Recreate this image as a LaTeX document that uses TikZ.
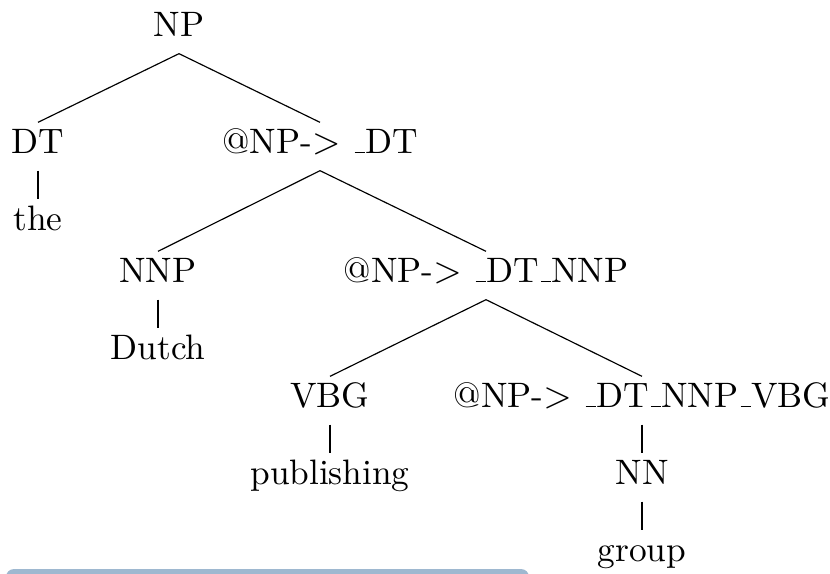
\documentclass[tikz,border=0pt]{standalone}
\usepackage{tikz}
% low rule underscore, as in the classic OT1 \_
\newcommand\ulbar{\leavevmode\kern.06em\vbox{\hrule width.3em}}
\newcommand\arr{@NP-$>$ \ulbar DT}
\definecolor{barblue}{RGB}{158,184,208}
\tikzset{
  lbl/.style={anchor=base, inner xsep=0pt, inner ysep=0.6pt,
              text height=8.4pt, text depth=4.5pt,
              font=\fontsize{10.6pt}{13pt}\selectfont},
  edge/.style={draw=black, line width=0.35pt}
}
\begin{document}
\begin{tikzpicture}[x=0.3pt, y=-0.3pt]
  \useasboundingbox (0,0) rectangle (830,573);
  \begin{scope}
    \clip (0,0) rectangle (830,573);
    \fill[barblue, rounded corners=2.4pt] (6,569) rectangle (529,640);
  \end{scope}

  % tree labels
  \node[lbl] (np)    at (179,36)  {NP};
  \node[lbl] (dt)    at (38,153)  {DT};
  \node[lbl] (the)   at (38,230)  {the};
  \node[lbl] (a1)    at (320,153) {\arr};
  \node[lbl] (nnp)   at (158,282) {NNP};
  \node[lbl] (dutch) at (158,359) {Dutch};
  \node[lbl] (a2)    at (486,282) {\arr\ulbar NNP};
  \node[lbl] (vbg)   at (330,407) {VBG};
  \node[lbl] (pub)   at (330,484) {publishing};
  \node[lbl] (a3)    at (642,407) {\arr\ulbar NNP\ulbar VBG};
  \node[lbl] (nn)    at (642,484) {NN};
  \node[lbl] (grp)   at (642,561) {group};

  % branches
  \draw[edge] (np.south) -- (dt.north);
  \draw[edge] (np.south) -- (a1.north);
  \draw[edge] (dt.south) -- (the.north);
  \draw[edge] (a1.south) -- (nnp.north);
  \draw[edge] (a1.south) -- (a2.north);
  \draw[edge] (nnp.south) -- (dutch.north);
  \draw[edge] (a2.south) -- (vbg.north);
  \draw[edge] (a2.south) -- (a3.north);
  \draw[edge] (vbg.south) -- (pub.north);
  \draw[edge] (a3.south) -- (nn.north);
  \draw[edge] (nn.south) -- (grp.north);
\end{tikzpicture}
\end{document}
